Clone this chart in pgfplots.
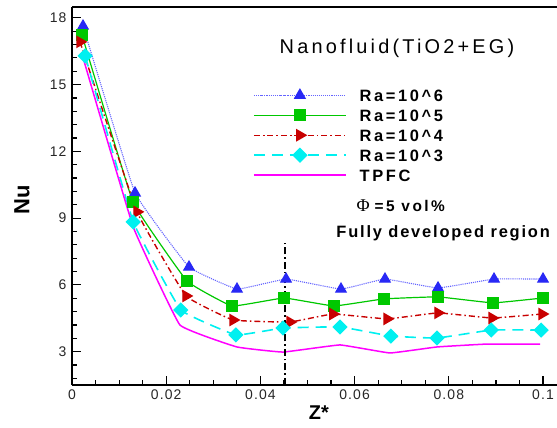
\documentclass[border=0pt]{standalone}
\usepackage{pgfplots}
\pgfplotsset{compat=1.18}
\usepackage{fontspec}
\setmainfont{Liberation Sans}
\newfontfamily\titlefnt[LetterSpace=16]{Liberation Sans}
\newfontfamily\legfnt[LetterSpace=16]{Liberation Sans}
\newfontfamily\fdfnt[LetterSpace=11]{Liberation Sans}
\newfontfamily\tickfnt[LetterSpace=8]{Liberation Sans}
\newfontfamily\greekfnt{Liberation Serif}
\definecolor{cblue}{RGB}{40,40,245}
\definecolor{cbluel}{RGB}{100,100,255}
\definecolor{cgreen}{RGB}{0,200,0}
\definecolor{cred}{RGB}{200,0,0}
\definecolor{ccyan}{RGB}{0,240,240}
\definecolor{cmag}{RGB}{255,0,255}
\begin{document}
\begin{tikzpicture}
\useasboundingbox (-72bp,-43bp) rectangle (485bp,385bp);
\begin{axis}[
  scale only axis, width=485bp, height=378.3bp,
  xmin=0, xmax=0.10297, ymin=1.5, ymax=18.5,
  axis x line*=box, axis y line*=left,
  xtick pos=bottom, ytick pos=left,
  tick align=inside,
  axis line style={line width=2bp, black},
  every tick/.style={black, line width=1.2bp},
  major tick length=9bp, minor tick length=5bp,
  scaled x ticks=false, scaled y ticks=false,
  xtick={0,0.02,0.04,0.06,0.08,0.1},
  xticklabels={0,0.02,0.04,0.06,0.08,0.1},
  minor xtick={0.005,0.01,0.015,0.025,0.03,0.035,0.045,0.05,0.055,0.065,0.07,0.075,0.085,0.09,0.095},
  ytick={3,6,9,12,15,18},
  yticklabels={3,6,9,12,15,18},
  minor ytick={1.8,2.4,3.6,4.2,4.8,5.4,6.6,7.2,7.8,8.4,9.6,10.2,10.8,11.4,12.6,13.2,13.8,14.4,15.6,16.2,16.8,17.4,18.0},
  tick label style={font=\tickfnt\fontsize{14}{16}\selectfont, black!85},
  xticklabel style={yshift=-1bp},
  yticklabel style={xshift=-2bp},
  xlabel={Z*}, ylabel={Nu},
  xlabel style={at={(axis description cs:0.509,-0.074)}, anchor=center, font=\bfseries\fontsize{20}{24}\selectfont},
  ylabel style={at={(axis description cs:-0.103,0.489)}, anchor=center, font=\bfseries\fontsize{22}{26}\selectfont},
  legend style={draw=none, fill=none, at={(axis description cs:0.373,0.785)}, anchor=north west,
    inner sep=0pt, row sep=6bp, column sep=12bp,
    font=\legfnt\bfseries\fontsize{16.5}{19}\selectfont,
    nodes={inner sep=1bp, text height=12bp, text depth=0bp}},
  legend cell align=left,
  legend image code/.code={\draw[mark repeat=2,mark phase=2,#1] plot coordinates {(0bp,0bp) (46bp,0bp) (92bp,0bp)};},
  smooth, tension=0.15,
]
\addplot[cbluel, line width=1.1bp, densely dotted, mark=triangle*, mark size=6bp,
  mark options={solid, fill=cblue, draw=cblue}] coordinates {
  (0.00234,17.63) (0.01338,10.13) (0.02484,6.80) (0.03503,5.81) (0.04544,6.26)
  (0.05711,5.81) (0.06645,6.26) (0.07771,5.86) (0.08960,6.26) (0.1000,6.26)};
\addlegendentry{Ra=10\textasciicircum 6}
\addplot[cgreen, line width=1.2bp, mark=square*, mark size=5.2bp,
  mark options={solid, fill=cgreen, draw=cgreen}] coordinates {
  (0.00212,17.23) (0.01295,9.72) (0.02442,6.17) (0.03397,5.05) (0.04501,5.41)
  (0.05563,5.05) (0.06624,5.37) (0.07771,5.46) (0.08938,5.19) (0.1000,5.41)};
\addlegendentry{Ra=10\textasciicircum 5}
\addplot[cred, line width=1.4bp, dash pattern=on 6bp off 3bp on 1.5bp off 3bp, mark=triangle*, mark size=6bp,
  mark options={solid, rotate=-90, fill=cred, draw=cred}] coordinates {
  (0.0017,16.92) (0.0138,9.28) (0.0242,5.50) (0.0342,4.42) (0.0463,4.33)
  (0.0554,4.69) (0.0669,4.47) (0.0777,4.74) (0.0892,4.51) (0.0998,4.69)};
\addlegendentry{Ra=10\textasciicircum 4}
\addplot[ccyan, line width=1.6bp, dash pattern=on 11bp off 7bp, mark=square*, mark size=4.6bp,
  mark options={solid, rotate=45, fill=ccyan, draw=ccyan}] coordinates {
  (0.0028,16.29) (0.0130,8.83) (0.0231,4.87) (0.0348,3.75) (0.0448,4.06)
  (0.0569,4.11) (0.0677,3.70) (0.0775,3.61) (0.0890,3.97) (0.0996,3.97)};
\addlegendentry{Ra=10\textasciicircum 3}
\addplot[cmag, line width=1.5bp, no marks] coordinates {
  (0.0023,16.24) (0.0130,8.60) (0.0229,4.20) (0.0350,3.21) (0.0448,2.98)
  (0.0569,3.30) (0.0675,2.94) (0.0775,3.21) (0.0881,3.34) (0.0994,3.34)};
\addlegendentry{TPFC}
\addplot[black, line width=1.8bp, sharp plot, dash pattern=on 7bp off 3bp on 1.5bp off 3bp, forget plot] coordinates {
  (0.0453,1.5) (0.0453,7.9)};
\node[font=\titlefnt\fontsize{20}{24}\selectfont] at (axis cs:0.069,16.65) {Nanofluid(TiO2+EG)};
\node at (axis cs:0.0698,9.55) {{\greekfnt\fontsize{18}{20}\selectfont Φ}\hspace{5bp}{\legfnt\bfseries\fontsize{15.5}{18}\selectfont =5 vol\%}};
\node[font=\fdfnt\bfseries\fontsize{16.5}{19}\selectfont] at (axis cs:0.0788,8.33) {Fully developed region};
\end{axis}
\end{tikzpicture}
\end{document}
